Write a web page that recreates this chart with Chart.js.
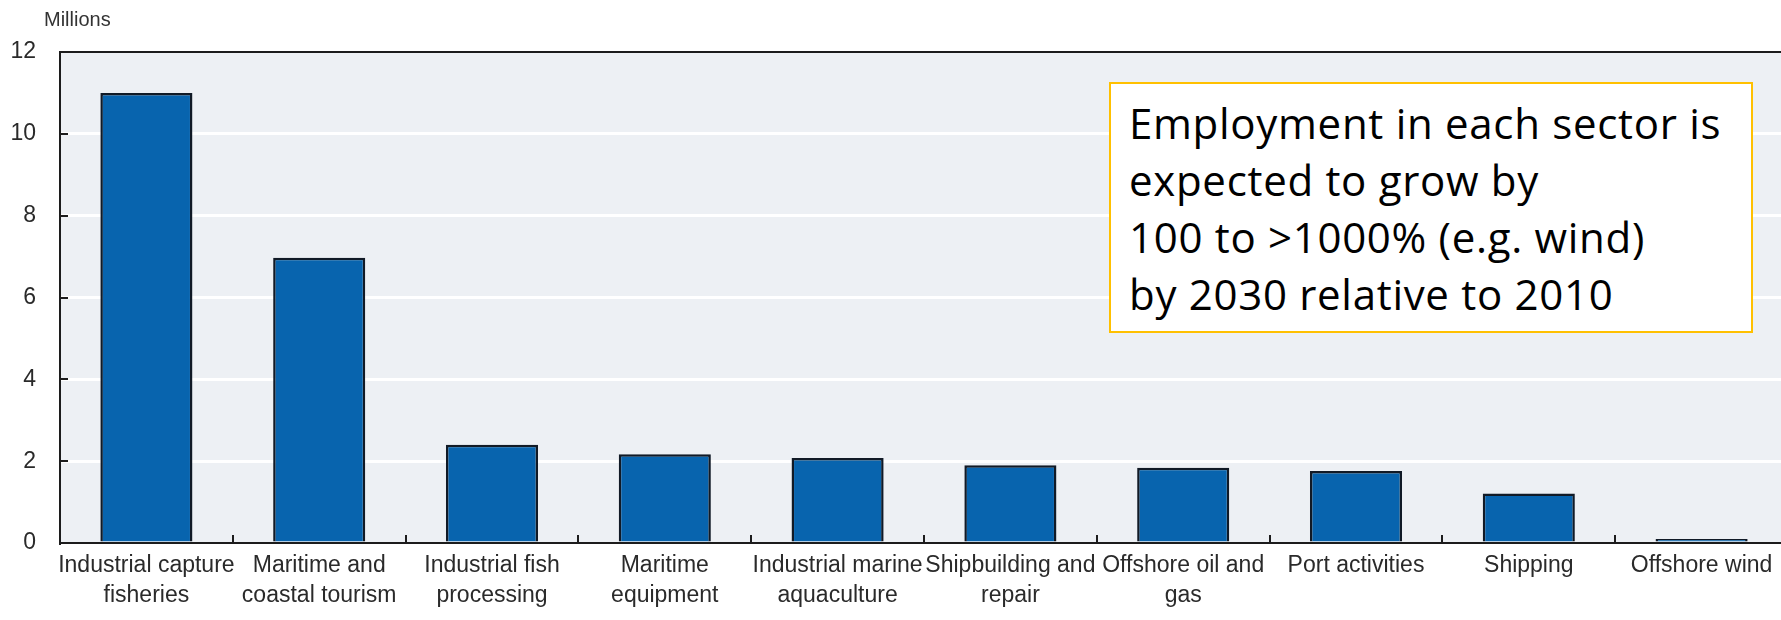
<!DOCTYPE html>
<html>
<head>
<meta charset="utf-8">
<title>Ocean economy employment</title>
<script src="https://cdn.jsdelivr.net/npm/chart.js@4.4.1/dist/chart.umd.min.js"></script>
<style>
  html, body { margin: 0; padding: 0; background: #fff; overflow: hidden; }
  #wrap { position: relative; width: 1788px; height: 620px; }
  #note {
    position: absolute;
    left: 1109px;
    top: 82px;
    width: 640px;
    height: 247px;
    border: 2px solid #ffc000;
    background: #fff;
    box-sizing: content-box;
    font-family: "Open Sans", Lato, sans-serif;
    font-size: 42px;
    letter-spacing: 0.7px;
    line-height: 57px;
    color: #000;
  }
  #note div { padding: 10px 0 0 18px; white-space: nowrap; }
</style>
</head>
<body>
<div id="wrap">
  <canvas id="chart"></canvas>
  <div id="note"><div>Employment in each sector is<br>expected to grow by<br>100 to &gt;1000% (e.g. wind)<br>by 2030 relative to 2010</div></div>
</div>
<script>
// sectors along the x axis (multi-line labels are arrays)
const sectors = [
  ["Industrial capture", "fisheries"],
  ["Maritime and", "coastal tourism"],
  ["Industrial fish", "processing"],
  ["Maritime", "equipment"],
  ["Industrial marine", "aquaculture"],
  ["Shipbuilding and", "repair"],
  ["Offshore oil and", "gas"],
  "Port activities",
  "Shipping",
  "Offshore wind",
];

// employment, millions of jobs
const employment = [11.0, 6.97, 2.4, 2.17, 2.08, 1.9, 1.84, 1.76, 1.21, 0.1];

const yTicks = [0, 2, 4, 6, 8, 10, 12];
const unitLabel = "Millions";

const axisFont = "'Liberation Sans', Arial, sans-serif";
const dark = "#1c1c1c";

// plot frame: panel fill, top rule, inner tick marks, unit label
const framePlugin = {
  id: "frame",
  beforeDraw(chart) {
    const { ctx, chartArea: a } = chart;
    ctx.save();
    ctx.fillStyle = "#edf0f4";
    ctx.fillRect(a.left, a.top, chart.width - a.left, a.bottom - a.top);
    ctx.restore();
  },
  afterDraw(chart) {
    const { ctx, chartArea: a, scales } = chart;
    const x = scales.x, y = scales.y;
    ctx.save();
    ctx.strokeStyle = dark;
    ctx.lineWidth = 2;

    // top rule
    ctx.beginPath();
    ctx.moveTo(a.left, y.getPixelForValue(12));
    ctx.lineTo(chart.width, y.getPixelForValue(12));
    ctx.stroke();

    // y ticks pointing into the panel
    yTicks.forEach(v => {
      const py = Math.round(y.getPixelForValue(v));
      ctx.beginPath();
      ctx.moveTo(a.left, py);
      ctx.lineTo(a.left + 8, py);
      ctx.stroke();
    });

    // category separators on the baseline
    for (let i = 1; i < sectors.length; i++) {
      const px = Math.round((x.getPixelForValue(i - 1) + x.getPixelForValue(i)) / 2);
      ctx.beginPath();
      ctx.moveTo(px, a.bottom);
      ctx.lineTo(px, a.bottom - 8);
      ctx.stroke();
    }

    ctx.fillStyle = "#333";
    ctx.font = "20px " + axisFont;
    ctx.textBaseline = "middle";
    ctx.textAlign = "left";
    ctx.fillText(unitLabel, 44, a.top - 32);
    ctx.restore();
  },
};

new Chart(document.getElementById("chart"), {
  type: "bar",
  data: {
    labels: sectors,
    datasets: [{
      data: employment,
      backgroundColor: "#0864ae",
      borderColor: "#111a26",
      borderWidth: 2.5,
      barPercentage: 0.533,
      categoryPercentage: 1,
    }],
  },
  options: {
    responsive: true,
    maintainAspectRatio: false,
    animation: false,
    layout: { padding: { top: 52, left: 0, right: 0, bottom: 0 } },
    plugins: {
      legend: { display: false },
      tooltip: { enabled: false },
    },
    scales: {
      x: {
        grid: { display: false, drawTicks: false },
        border: { display: true, color: dark, width: 2 },
        ticks: {
          autoSkip: false,
          maxRotation: 0,
          padding: 8,
          color: "#2a2a2a",
          font: { family: axisFont, size: 23, lineHeight: 1.28 },
        },
        afterFit(scale) { scale.height = 77; },
      },
      y: {
        min: 0,
        max: 12,
        grid: {
          drawTicks: false,
          lineWidth: 3,
          color: ctx => (ctx.tick && ctx.tick.value > 0 && ctx.tick.value < 12 ? "#ffffff" : "rgba(0,0,0,0)"),
        },
        border: { display: true, color: dark, width: 2 },
        ticks: {
          stepSize: 2,
          padding: 24,
          color: "#2a2a2a",
          font: { family: axisFont, size: 23 },
        },
        afterFit(scale) { scale.width = 60; },
      },
    },
  },
  plugins: [framePlugin],
});
</script>
</body>
</html>
